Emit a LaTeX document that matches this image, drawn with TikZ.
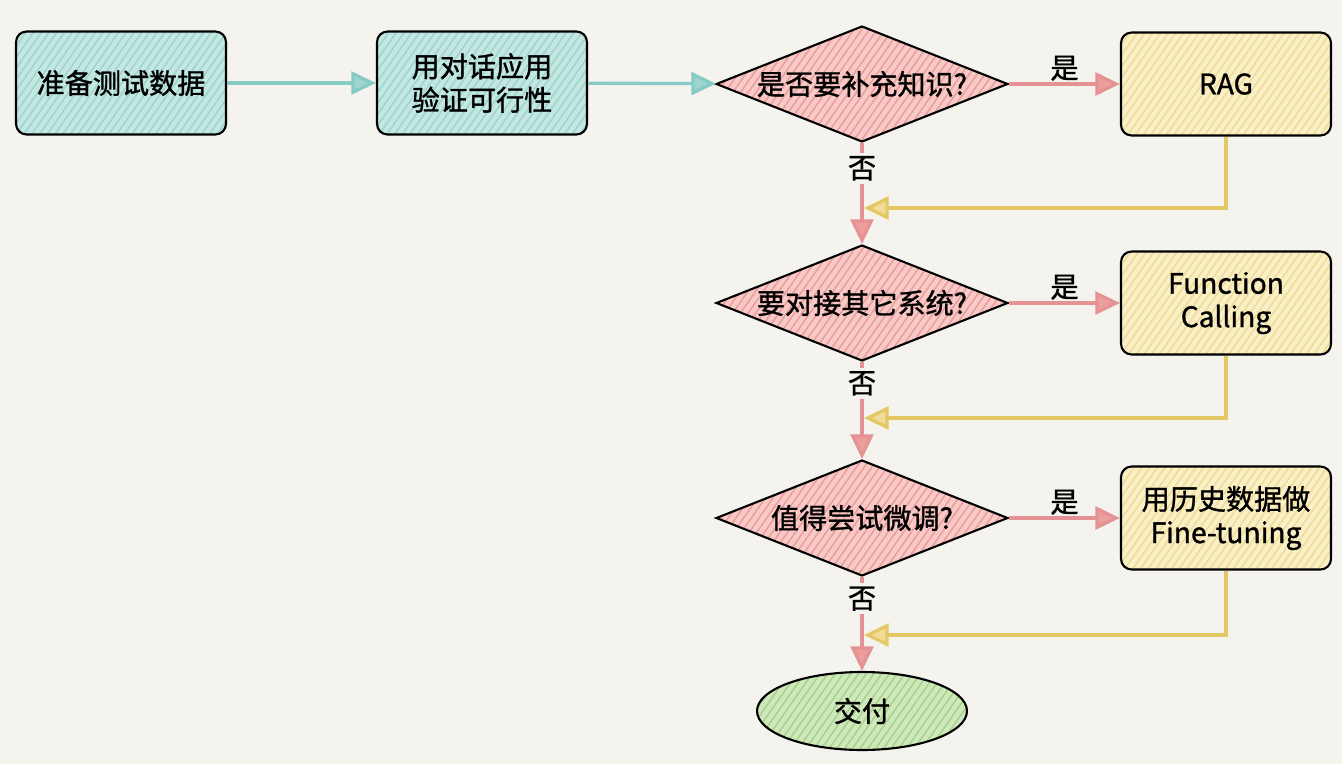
\documentclass[tikz,border=0pt]{standalone}
\usepackage{fontspec}
\setmainfont[FakeBold=1.2]{Noto Sans CJK SC}
\usetikzlibrary{shapes.geometric,arrows.meta,patterns.meta}
\definecolor{paper}{HTML}{F5F3EE}
\definecolor{tealfill}{HTML}{C4E7E2}
\definecolor{tealhatch}{HTML}{9ED5CE}
\definecolor{redfill}{HTML}{F7CAC8}
\definecolor{redhatch}{HTML}{EC9E9C}
\definecolor{yelfill}{HTML}{FAF0C8}
\definecolor{yelhatch}{HTML}{F0DC96}
\definecolor{grnfill}{HTML}{CFE9BC}
\definecolor{grnhatch}{HTML}{A8D38C}
\definecolor{tealline}{HTML}{86CBC6}
\definecolor{redline}{HTML}{E59294}
\definecolor{yelline}{HTML}{E3C865}

\begin{document}
\begin{tikzpicture}[x=0.02cm,y=-0.02cm,
  font=\fontsize{16}{19}\selectfont,
  hatch/.style={preaction={fill=#1fill},preaction={pattern={Lines[angle=55,distance=3.6pt,line width=0.9pt]},pattern color=#1hatch}},
  box/.style={draw=black,line width=1.2pt,rounded corners=6pt,minimum width=4.2cm,minimum height=2.06cm,align=center,hatch=#1},
  ask/.style={diamond,draw=black,line width=1.2pt,aspect=2.54,inner sep=0pt,minimum width=5.84cm,minimum height=2.32cm,hatch=red},
  done/.style={ellipse,draw=black,line width=1.2pt,inner sep=0pt,minimum width=4.2cm,minimum height=1.56cm,hatch=grn},
  flow/.style={line width=1.9pt,draw=#1line,-{Triangle[length=14pt,width=13pt,fill=#1hatch]}},
  yes/.style={above=0pt,inner sep=1pt},
  lbl/.style={fill=paper,inner sep=2pt}]
\fill[paper] (0,0) rectangle (1342,764);

\node[box=teal] (data) at (121,83) {准备测试数据};
\node[box=teal] (chat) at (482,83) {用对话应用\\验证可行性};
\node[ask] (q1) at (862,84) {是否要补充知识?};
\node[box=yel] (rag) at (1226,84) {RAG};
\node[ask] (q2) at (862,303) {要对接其它系统?};
\node[box=yel] (fc) at (1226,303) {Function\\Calling};
\node[ask] (q3) at (862,518) {值得尝试微调?};
\node[box=yel] (ft) at (1226,518) {用历史数据做\\Fine-tuning};
\node[done] (ship) at (862,711) {交付};

\coordinate (m1) at (864,208);
\coordinate (m2) at (864,418);
\coordinate (m3) at (864,635);

\draw[flow=teal] (data) -- (chat);
\draw[flow=teal] (chat) -- (q1);

\draw[flow=red] (q1) -- node[yes]{是} (rag);
\draw[flow=red] (q2) -- node[yes]{是} (fc);
\draw[flow=red] (q3) -- node[yes]{是} (ft);

\draw[flow=red] (q1) -- node[lbl,pos=0.25]{否} (q2);
\draw[flow=red] (q2) -- node[lbl,pos=0.22]{否} (q3);
\draw[flow=red] (q3) -- node[lbl,pos=0.23]{否} (ship);

\draw[flow=yel] (rag) |- (m1);
\draw[flow=yel] (fc) |- (m2);
\draw[flow=yel] (ft) |- (m3);
\end{tikzpicture}
\end{document}
